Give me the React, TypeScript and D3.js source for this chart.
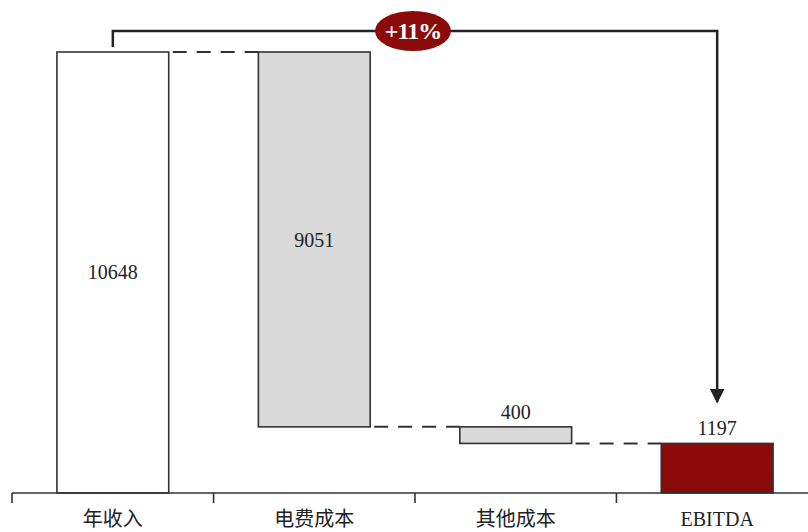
import React from "react";
import * as d3 from "d3";

const categories = ["年收入", "电费成本", "其他成本", "EBITDA"];
const values = [10648, 9051, 400, 1197];
const kinds = ["total", "minus", "minus", "result"];
const growthLabel = "+11%";

const W = 808;
const H = 532;
const baseY = 493;

export default function App() {
  const x = d3.scaleBand().domain(categories).range([12, 818]).paddingInner(0.445).paddingOuter(0.223);
  const y = d3.scaleLinear().domain([0, 10648]).range([baseY, 52]);

  let running = 0;
  const segs = values.map((v, i) => {
    let lo: number, hi: number;
    if (kinds[i] === "total") {
      lo = 0; hi = v; running = v;
    } else if (kinds[i] === "minus") {
      hi = running; lo = running - v; running = lo;
    } else {
      lo = 0; hi = v;
    }
    return { cat: categories[i], v, lo, hi, kind: kinds[i] };
  });

  const fillFor = (k: string) => (k === "total" ? "#ffffff" : k === "result" ? "#8b0a0a" : "#d9d9d9");
  const bw = x.bandwidth();
  const step = x.step();
  const ticks = categories.map((c) => x(c)! - (step - bw) / 2).map((t, i) => (i === 0 ? 12 : t));

  const c0 = x(categories[0])! + bw / 2;
  const c3 = x(categories[3])! + bw / 2;
  const bracketY = 31;

  return (
    <svg width={W} height={H} style={{ position: "absolute", left: 0, top: 0, background: "#fff" }}>
      <defs>
        <marker id="arr" viewBox="0 0 10 10" refX="9" refY="5" markerWidth="6" markerHeight="6" orient="auto">
          <path d="M0,0 L10,5 L0,10 z" fill="#222" />
        </marker>
      </defs>
      {segs.slice(0, -1).map((s, i) => {
        const next = segs[i + 1];
        const yy = y(next.hi);
        return (
          <line key={"c" + i} x1={x(s.cat)! + bw} x2={x(next.cat)!} y1={yy} y2={yy}
            stroke="#333" strokeWidth={2} strokeDasharray="14,10" strokeDashoffset={-4} />
        );
      })}
      {segs.map((s) => (
        <rect key={s.cat} x={x(s.cat)!} y={y(s.hi)} width={bw} height={y(s.lo) - y(s.hi)}
          fill={fillFor(s.kind)} stroke="#333" strokeWidth={1.6} />
      ))}
      <line x1={12} x2={808} y1={baseY} y2={baseY} stroke="#333" strokeWidth={1.6} />
      {ticks.map((t, i) => (
        <line key={"t" + i} x1={t} x2={t} y1={baseY} y2={baseY + 10} stroke="#333" strokeWidth={1.6} />
      ))}
      {categories.map((c) => (
        <text key={"l" + c} x={x(c)! + bw / 2} y={526} textAnchor="middle" fontSize={20}
          fontFamily="'Liberation Serif', 'Noto Sans CJK SC', serif" fill="#222">{c}</text>
      ))}
      {segs.map((s, i) => {
        const cx = x(s.cat)! + bw / 2;
        let ty: number;
        if (i === 0) ty = 279;
        else if (i === 1) ty = 247;
        else ty = y(s.hi) - 8;
        return (
          <text key={"v" + i} x={cx} y={ty} textAnchor="middle" fontSize={20}
            fontFamily="'Liberation Serif', serif" fill="#222">{s.v}</text>
        );
      })}
      <path d={`M${c0},${y(values[0]) - 5} L${c0},${bracketY} L${c3},${bracketY} L${c3},${402}`}
        fill="none" stroke="#222" strokeWidth={2.5} markerEnd="url(#arr)" />
      <ellipse cx={413} cy={bracketY} rx={38} ry={20} fill="#8b0a0a" />
      <text x={413} y={bracketY + 8} textAnchor="middle" fontSize={24} fontWeight="bold"
        fontFamily="'Liberation Serif', serif" fill="#fff" letterSpacing={-1}>{growthLabel}</text>
    </svg>
  );
}
